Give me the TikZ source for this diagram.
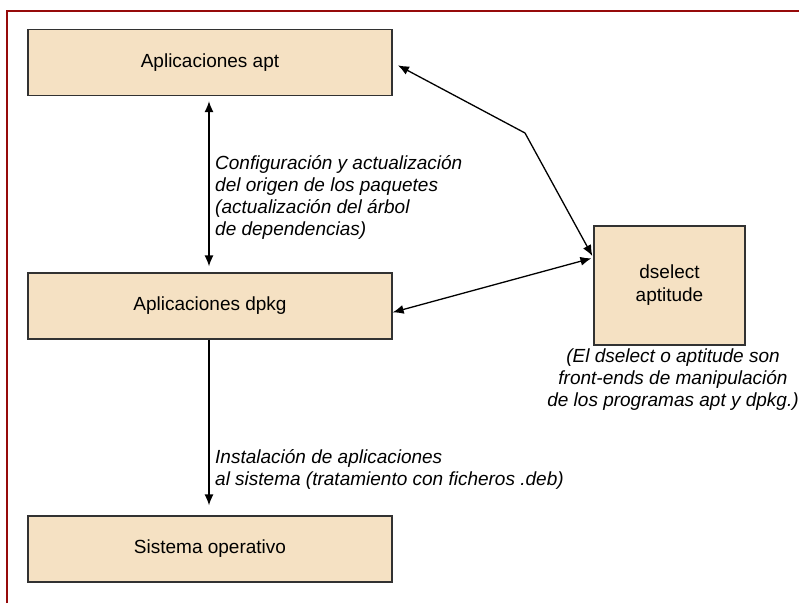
\documentclass[tikz,border=0pt]{standalone}
\usepackage{fontspec}
\setmainfont{Liberation Sans}
\usetikzlibrary{arrows.meta}
\usetikzlibrary{calc}
\definecolor{boxfill}{RGB}{245,225,195}
\definecolor{boxline}{RGB}{50,50,50}
\definecolor{framered}{RGB}{150,10,10}
\tikzstyle{block} = [draw=boxline,fill=boxfill,line width=1.3pt,minimum width=364pt,minimum height=66pt,font=\fontsize{19}{22}\selectfont]
\tikzstyle{tool} = [draw=boxline,fill=boxfill,line width=1.3pt,minimum width=151pt,minimum height=119pt,align=center,font=\fontsize{19}{23}\selectfont]
\tikzstyle{note} = [inner sep=0pt,font=\fontsize{19}{22}\selectfont\itshape]
\tikzstyle{link} = [line width=1.3pt]

\begin{document}
\begin{tikzpicture}[>={Latex[length=11pt,width=9pt]},x=1pt,y=-1pt]
    \useasboundingbox (0,0) rectangle (799,603);
    % frame round the page
    \draw[framered,line width=1.5pt] (7,603) -- (7,11) -- (799,11);

% Draw blocks and notes
    \node[block] at (210,62.5) (apt) {Aplicaciones apt};
    \node[block] at (210,306) (dpkg) {Aplicaciones dpkg};
    \node[block] at (210,549) (so) {Sistema operativo};
    \node[tool] at (669.5,285.5) (front) {dselect\\aptitude};
    \coordinate (bend) at (525,133);

    \node[note,align=left,anchor=north west] at (215,155) (cfg)
        {Configuración y actualización\\del origen de los paquetes\\(actualización del árbol\\de dependencias)};
    \node[note,align=left,anchor=north west] at (215,449) (inst)
        {Instalación de aplicaciones\\al sistema (tratamiento con ficheros .deb)};
    \node[note,align=center,anchor=north] at (673,349) (front note)
        {(El dselect o aptitude son\\front-ends de manipulación\\de los programas apt y dpkg.)};

    % join up
    \draw[link,<->,shorten <=5pt,shorten >=6pt] (apt.south -| 209,0) -- (dpkg.north -| 209,0);
    \draw[link,->,shorten >=10pt] (dpkg.south -| 209,0) -- (so.north -| 209,0);
    \draw[link,<->,shorten <=6pt,shorten >=2pt] (apt.east) -- (bend) -- (front.160);
    \draw[link,<->,shorten >=2pt] (dpkg.-2) -- (front.160);

\end{tikzpicture}
\end{document}
